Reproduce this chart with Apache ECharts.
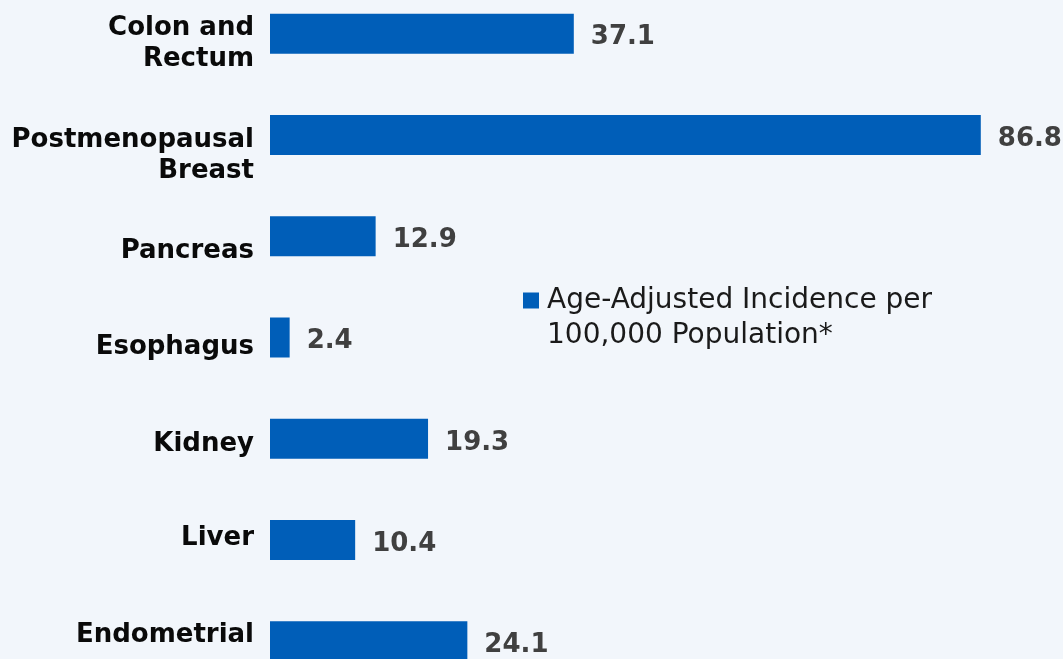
<!DOCTYPE html>
<html><head><meta charset="utf-8">
<script src="https://cdn.jsdelivr.net/npm/echarts@6/dist/echarts.min.js"></script>
<style>html,body{margin:0;padding:0;background:#f2f6fb;overflow:hidden;width:1063px;height:659px;}#c{position:absolute;left:0;top:-17px;width:1063px;height:709px;}</style>
</head><body><div id="c"></div>
<script>
var categories = ["Colon and\nRectum", "Postmenopausal\nBreast", "Pancreas", "Esophagus", "Kidney", "Liver", "Endometrial"];
var values = [37.1, 86.8, 12.9, 2.4, 19.3, 10.4, 24.1];
var seriesName = "Age-Adjusted Incidence per\n100,000 Population*";

// vertical nudges (px) of the category labels, as in the original layout
var labelShift = [10, 21, 15, 10, 5, -2, -6];

var rich = {t: {fontFamily: 'DejaVu Sans', fontWeight: 'bold', fontSize: 26, color: '#0a0a0a', lineHeight: 31}};
labelShift.forEach(function(d, i){ rich['p' + i] = {fontSize: 1, lineHeight: Math.max(1, 2 * Math.abs(d))}; });

var chart = echarts.init(document.getElementById('c'), null, {renderer: 'canvas'});
chart.setOption({
  backgroundColor: '#f2f6fb',
  animation: false,
  grid: {left: 270, width: 737, top: 0, height: 709, containLabel: false},
  legend: {
    show: true, left: 523, top: 282, orient: 'vertical', padding: 0,
    itemWidth: 16, itemHeight: 16, icon: 'rect',
    formatter: function(name){
      return '{sp| }\n' + name.split('\n').map(function(l){return '{a|' + l + '}';}).join('\n');
    },
    textStyle: {
      padding: [0, 0, 0, 3],
      rich: {
        a: {fontFamily: 'DejaVu Sans', fontSize: 28, color: '#1a1a1a', lineHeight: 35},
        sp: {fontSize: 1, lineHeight: 35}
      }
    }
  },
  xAxis: {type: 'value', min: 0, max: 90, show: false},
  yAxis: {
    type: 'category', data: categories, inverse: true,
    axisLine: {show: false}, axisTick: {show: false}, splitLine: {show: false},
    axisLabel: {
      margin: 16, align: 'right',
      formatter: function(v, i){
        var d = labelShift[i];
        var lines = v.split('\n').map(function(l){return '{t|' + l + '}';}).join('\n');
        var sp = '{p' + i + '| }';
        if (d > 0) return sp + '\n' + lines;
        if (d < 0) return lines + '\n' + sp;
        return lines;
      },
      rich: rich
    }
  },
  series: [{
    name: seriesName, type: 'bar', data: values, barWidth: 40,
    itemStyle: {color: '#005eb8'},
    label: {show: true, position: 'right', distance: 17, offset: [0, 4], formatter: function(p){return p.value.toFixed(1);},
      fontFamily: 'DejaVu Sans', fontWeight: 'bold', fontSize: 26, color: '#404040'}
  }]
});
</script></body></html>
